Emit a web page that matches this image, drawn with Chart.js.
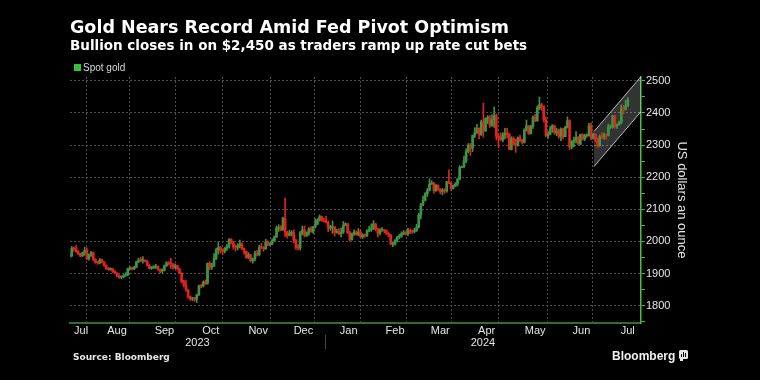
<!DOCTYPE html>
<html>
<head>
<meta charset="utf-8">
<script src="https://cdn.jsdelivr.net/npm/chart.js@4.4.1/dist/chart.umd.min.js"></script>
<style>
  html, body { margin: 0; padding: 0; background: #000; }
  canvas { display: block; }
</style>
</head>
<body>
<canvas id="chart" width="760" height="380"></canvas>
<script>
// Spot gold daily candles, 17 Jul 2023 - 16 Jul 2024 (one line per month)
const open = [
  1955,1955,1979,1977,1969,1962,1955,1965,1972,1946,1959,
  1965,1944,1934,1933,1943,1936,1925,1915,1913,1914,1907,1901,1892,1889,1889,1894,1897,1915,1917,1914,1920,1937,1942,
  1940,1940,1939,1926,1916,1919,1919,1922,1913,1908,1910,1924,1934,1931,1930,1920,1925,1915,1901,1874,1864,
  1849,1828,1822,1822,1820,1833,1862,1861,1874,1868,1932,1920,1923,1947,1974,1981,1973,1970,1979,1985,2006,1996,
  1983,1982,1985,1992,1978,1969,1950,1958,1940,1946,1963,1959,1981,1980,1977,1998,1990,1992,2002,2014,2041,2044,
  2036,2072,2029,2019,2025,2028,2004,1981,1980,2027,2036,2019,2027,2040,2031,2045,2053,2067,2077,2065,
  2063,2059,2042,2043,2045,2028,2030,2024,2029,2049,2055,2028,2006,2023,2029,2021,2029,2014,2020,2018,2033,2037,
  2039,2054,2039,2025,2035,2035,2034,2024,2020,1992,1992,2004,2013,2017,2024,2026,2024,2035,2031,2030,2034,
  2044,2083,2115,2128,2148,2159,2179,2182,2158,2174,2162,2156,2160,2157,2186,2181,2165,2172,2179,2194,2230,
  2233,2251,2280,2300,2290,2330,2339,2352,2333,2372,2344,2383,2383,2361,2379,2392,2327,2322,2316,2332,2337,2335,
  2286,2320,2304,2301,2323,2314,2309,2346,2360,2336,2358,2386,2376,2415,2425,2421,2379,2329,2334,2351,2360,2338,2343,
  2327,2350,2326,2355,2376,2294,2311,2316,2324,2303,2333,2319,2329,2329,2360,2321,2334,2319,2298,2327,
  2326,2332,2330,2356,2356,2392,2359,2364,2371,2415,2411,2422
];
const high = [
  1958,1984,1982,1987,1972,1963,1967,1982,1980,1961,1969,
  1967,1946,1938,1947,1945,1937,1927,1919,1918,1916,1909,1903,1897,1892,1897,1903,1917,1922,1920,1923,1939,1948,1950,
  1953,1942,1941,1929,1922,1925,1929,1924,1915,1915,1927,1937,1937,1947,1931,1930,1926,1917,1903,1879,1880,
  1850,1831,1825,1826,1836,1864,1866,1877,1880,1933,1937,1932,1962,1979,1998,1985,1977,1981,1990,2009,2009,2000,
  1989,1993,2004,1996,1979,1970,1965,1960,1948,1970,1972,1988,1994,1984,2007,2002,1996,2008,2017,2048,2052,2049,
  2076,2135,2032,2035,2033,2036,2008,1990,2031,2048,2048,2030,2043,2046,2047,2071,2070,2083,2079,2072,
  2079,2064,2050,2064,2046,2038,2040,2042,2062,2058,2056,2031,2026,2036,2033,2040,2036,2024,2023,2037,2048,2055,
  2065,2057,2042,2040,2043,2037,2036,2028,2022,1999,2006,2016,2022,2030,2034,2031,2041,2039,2036,2041,2053,
  2088,2119,2141,2152,2165,2195,2189,2184,2178,2176,2165,2165,2164,2187,2223,2185,2176,2183,2197,2236,2235,
  2266,2288,2305,2305,2331,2354,2365,2354,2378,2431,2385,2392,2392,2394,2418,2396,2334,2338,2339,2352,2352,2336,
  2326,2326,2319,2326,2331,2318,2351,2378,2361,2362,2391,2396,2422,2450,2430,2422,2387,2342,2358,2364,2362,2352,2350,
  2354,2352,2359,2388,2379,2314,2325,2342,2327,2334,2335,2334,2335,2368,2369,2338,2335,2321,2332,2339,
  2338,2334,2365,2363,2393,2392,2366,2375,2425,2424,2440,2448
];
const low = [
  1947,1952,1970,1966,1959,1952,1953,1957,1943,1942,1953,
  1940,1932,1929,1930,1933,1922,1913,1910,1910,1903,1900,1890,1885,1884,1886,1891,1893,1911,1911,1912,1918,1934,1937,
  1932,1936,1923,1914,1913,1915,1916,1910,1902,1901,1908,1922,1926,1916,1914,1915,1911,1900,1871,1858,1844,
  1823,1816,1815,1813,1810,1832,1855,1858,1866,1867,1912,1913,1922,1943,1960,1964,1959,1964,1972,1979,1993,1976,
  1970,1974,1980,1974,1960,1947,1947,1936,1932,1939,1955,1955,1978,1969,1975,1987,1986,1990,2001,2012,2031,2033,
  2034,2015,2010,2017,2017,1995,1975,1974,1973,2020,2014,2015,2019,2029,2025,2042,2052,2063,2063,2060,
  2057,2030,2035,2025,2017,2026,2021,2014,2025,2049,2024,2001,2004,2019,2019,2018,2011,2009,2013,2015,2030,2031,
  2037,2033,2014,2020,2031,2027,2022,2014,1989,1984,1988,1998,2009,2013,2021,2020,2018,2024,2025,2026,2031,
  2042,2070,2111,2126,2140,2157,2177,2150,2156,2159,2148,2145,2150,2153,2180,2158,2163,2171,2173,2191,2230,
  2229,2245,2276,2268,2279,2323,2336,2320,2330,2325,2343,2367,2355,2358,2355,2316,2292,2315,2310,2319,2322,2285,
  2285,2300,2277,2297,2310,2303,2306,2343,2333,2334,2352,2373,2374,2410,2408,2372,2326,2321,2332,2340,2333,2329,2321,
  2314,2320,2326,2353,2286,2288,2294,2307,2302,2301,2315,2314,2325,2328,2317,2318,2310,2293,2296,2320,
  2318,2318,2328,2351,2353,2353,2352,2362,2366,2397,2409,2420
];
const close = [
  1955,1979,1977,1969,1962,1955,1965,1972,1946,1959,1965,
  1944,1934,1933,1943,1936,1925,1915,1913,1914,1907,1901,1892,1889,1889,1894,1897,1915,1917,1914,1920,1937,1942,1940,
  1940,1939,1926,1916,1919,1919,1922,1913,1908,1910,1924,1934,1931,1930,1920,1925,1915,1901,1874,1864,1849,
  1828,1822,1822,1820,1833,1862,1861,1874,1868,1932,1920,1923,1947,1974,1981,1973,1970,1979,1985,2006,1996,1983,
  1982,1985,1992,1978,1969,1950,1958,1940,1946,1963,1959,1981,1980,1977,1998,1990,1992,2002,2014,2041,2044,2036,
  2072,2029,2019,2025,2028,2004,1981,1980,2027,2036,2019,2027,2040,2031,2045,2053,2067,2077,2065,2063,
  2059,2042,2043,2045,2028,2030,2024,2029,2049,2055,2028,2006,2023,2029,2021,2029,2014,2020,2018,2033,2037,2039,
  2054,2039,2025,2035,2035,2034,2024,2020,1992,1992,2004,2013,2017,2024,2026,2024,2035,2031,2030,2034,2044,
  2083,2115,2128,2148,2159,2179,2182,2158,2174,2162,2156,2160,2157,2186,2181,2165,2172,2179,2194,2230,2233,
  2251,2280,2300,2290,2330,2339,2352,2333,2372,2344,2383,2383,2361,2379,2392,2327,2322,2316,2332,2337,2335,2286,
  2320,2304,2301,2323,2314,2309,2346,2360,2336,2358,2386,2376,2415,2425,2421,2379,2329,2334,2351,2360,2338,2343,2327,
  2350,2326,2355,2376,2294,2311,2316,2324,2303,2333,2319,2329,2329,2360,2321,2334,2319,2298,2327,2326,
  2332,2330,2356,2356,2392,2359,2364,2371,2415,2411,2422,2440
];

const firstDate = '2023-07-17';
const skipDates = ['2023-12-25', '2024-01-01'];
const monthLabels = ['Jul', 'Aug', 'Sep', 'Oct', 'Nov', 'Dec', 'Jan', 'Feb', 'Mar', 'Apr', 'May', 'Jun', 'Jul'];
const yearLabels = ['2023', '2024'];
const yTicks = [1750, 1800, 1850, 1900, 1950, 2000, 2050, 2100, 2150, 2200, 2250, 2300, 2350, 2400, 2450, 2500];

// trend channel drawn over the last weeks (x in trading-day index)
const channelX = [243.3, 265.1];
const channelTop = [2342, 2513];
const channelBottom = [2233, 2404];

const X_MIN = 0.19, X_MAX = 265.1;
const UP = '#3f9443', DOWN = '#e4231c';
const GRID = '#4d4d4d';

// trading days, one per candle
const dates = [];
for (let t = Date.parse(firstDate); dates.length < close.length; t += 864e5) {
  const d = new Date(t);
  const iso = d.toISOString().slice(0, 10);
  const wd = d.getUTCDay();
  if (wd !== 0 && wd !== 6 && !skipDates.includes(iso)) dates.push(iso);
}

// month / year boundaries on the trading-day axis
const monthBreaks = [];
let yearBreak = null;
dates.forEach((d, i) => {
  if (!i) return;
  if (d.slice(5, 7) !== dates[i - 1].slice(5, 7)) monthBreaks.push(i - 0.5);
  if (d.slice(0, 4) !== dates[i - 1].slice(0, 4)) yearBreak = i - 0.5;
});
const edges = [X_MIN, ...monthBreaks, monthBreaks[monthBreaks.length - 1] + 23];
const monthPos = monthLabels.map((m, k) => (edges[k] + edges[k + 1]) / 2);
const yearPos = [(X_MIN + yearBreak) / 2, (yearBreak + X_MAX) / 2];

const labelAt = new Map(monthPos.map((p, k) => [p, monthLabels[k]]));
const yearAt = new Map(yearPos.map((p, k) => [p, yearLabels[k]]));
const breakSet = new Set(monthBreaks);

const candleColor = ctx => close[ctx.dataIndex] >= open[ctx.dataIndex] ? UP : DOWN;

Chart.defaults.font.family = '"Liberation Sans", Arial, sans-serif';
Chart.defaults.color = '#e6e6e6';

const decor = {
  id: 'decor',
  afterDraw(chart) {
    const { ctx, scales } = chart;
    ctx.save();
    // legend
    ctx.fillStyle = '#35c23b';
    ctx.fillRect(74, 64, 7, 7);
    ctx.fillStyle = '#d9d9d9';
    ctx.font = '10px "Liberation Sans"';
    ctx.textBaseline = 'middle';
    ctx.fillText('Spot gold', 83, 68);
    // year divider under the axis
    const xb = Math.round(scales.x.getPixelForValue(yearBreak)) + 0.5;
    ctx.strokeStyle = '#444';
    ctx.lineWidth = 1;
    ctx.beginPath();
    ctx.moveTo(xb, 335);
    ctx.lineTo(xb, 349);
    ctx.stroke();
    // source + logo
    ctx.textBaseline = 'alphabetic';
    ctx.fillStyle = '#e6e6e6';
    ctx.font = 'bold 9px "DejaVu Sans"';
    ctx.fillText('Source: Bloomberg', 73, 360);
    ctx.fillStyle = '#f0f0f0';
    ctx.font = 'bold 12px "Liberation Sans"';
    ctx.fillText('Bloomberg', 612, 360);
    ctx.fillStyle = '#e8e8e8';
    ctx.beginPath();
    ctx.roundRect(679, 350, 9, 9, 1.5);
    ctx.fill();
    ctx.fillRect(680, 358, 3, 3);
    ctx.fillStyle = '#000';
    ctx.fillRect(681, 354, 1, 3);
    ctx.fillRect(683, 352, 1, 5);
    ctx.fillRect(685, 353, 1, 4);
    ctx.restore();
  }
};

new Chart(document.getElementById('chart'), {
  type: 'bar',
  data: {
    datasets: [
      {
        label: 'wick',
        data: dates.map((d, i) => ({ x: i, y: [low[i], high[i]] })),
        backgroundColor: candleColor,
        barThickness: 1,
        grouped: false,
        order: 1
      },
      {
        label: 'Spot gold',
        data: dates.map((d, i) => ({ x: i, y: [open[i], close[i]] })),
        backgroundColor: candleColor,
        barThickness: 2,
        minBarLength: 1,
        grouped: false,
        order: 0
      },
      {
        type: 'line',
        label: 'channel top',
        data: channelX.map((x, k) => ({ x, y: channelTop[k] })),
        borderColor: 'rgba(255,255,255,0.7)',
        borderWidth: 1,
        pointRadius: 0,
        fill: false,
        order: 3
      },
      {
        type: 'line',
        label: 'channel bottom',
        data: channelX.map((x, k) => ({ x, y: channelBottom[k] })),
        borderColor: 'rgba(255,255,255,0.7)',
        borderWidth: 1,
        pointRadius: 0,
        fill: '-1',
        backgroundColor: 'rgba(255,255,255,0.2)',
        order: 2
      }
    ]
  },
  options: {
    responsive: false,
    animation: false,
    devicePixelRatio: 1,
    layout: { padding: { left: 70, right: 71, top: 0, bottom: 30 } },
    plugins: {
      legend: { display: false },
      tooltip: { enabled: false },
      title: {
        display: true,
        text: 'Gold Nears Record Amid Fed Pivot Optimism',
        align: 'start',
        color: '#ffffff',
        font: { family: '"DejaVu Sans"', weight: 'bold', size: 17.5, lineHeight: 1.0 },
        padding: { top: 19.5, bottom: 0 }
      },
      subtitle: {
        display: true,
        text: 'Bullion closes in on $2,450 as traders ramp up rate cut bets',
        align: 'start',
        color: '#ffffff',
        font: { family: '"DejaVu Sans"', weight: 'bold', size: 13.5, lineHeight: 1.0 },
        padding: { top: 2.5, bottom: 24 }
      }
    },
    scales: {
      x: {
        type: 'linear',
        position: 'bottom',
        min: X_MIN,
        max: X_MAX,
        offset: false,
        weight: 0,
        afterBuildTicks: s => {
          s.ticks = [...monthBreaks, ...monthPos].sort((a, b) => a - b).map(v => ({ value: v }));
        },
        afterFit: s => { s.height = 13; },
        ticks: {
          autoSkip: false,
          maxRotation: 0,
          padding: 2,
          color: '#e6e6e6',
          font: { size: 11, lineHeight: 1.0 },
          callback: v => labelAt.get(v) || ''
        },
        grid: {
          color: c => (c.tick && breakSet.has(c.tick.value)) ? GRID : 'rgba(0,0,0,0)',
          drawTicks: false
        },
        border: { color: '#2f6d31', width: 2, dash: [2, 2] }
      },
      xYear: {
        type: 'linear',
        position: 'bottom',
        min: X_MIN,
        max: X_MAX,
        offset: false,
        weight: 1,
        afterBuildTicks: s => { s.ticks = yearPos.map(v => ({ value: v })); },
        afterFit: s => { s.height = 14; },
        ticks: {
          autoSkip: false,
          maxRotation: 0,
          padding: 1.5,
          color: '#e6e6e6',
          font: { size: 11, lineHeight: 1.0 },
          callback: v => yearAt.get(v) || ''
        },
        grid: { display: false, drawTicks: false },
        border: { display: false }
      },
      y: {
        type: 'linear',
        position: 'right',
        min: 1746,
        max: 2512,
        afterBuildTicks: s => { s.ticks = yTicks.map(v => ({ value: v })); },
        ticks: {
          autoSkip: false,
          padding: 1,
          color: '#e6e6e6',
          font: { size: 11 },
          callback: v => v % 100 === 0 ? String(v) : ''
        },
        grid: {
          color: c => (c.tick && c.tick.value % 100 === 0) ? GRID : 'rgba(0,0,0,0)',
          tickColor: '#45c047',
          tickLength: 4
        },
        border: { color: '#45c047', width: 1.5, dash: [2, 2] },
        title: {
          display: true,
          text: 'US dollars an ounce',
          color: '#e6e6e6',
          font: { size: 13 },
          padding: { top: 0, bottom: 2 }
        }
      }
    }
  },
  plugins: [decor]
});
</script>
</body>
</html>
